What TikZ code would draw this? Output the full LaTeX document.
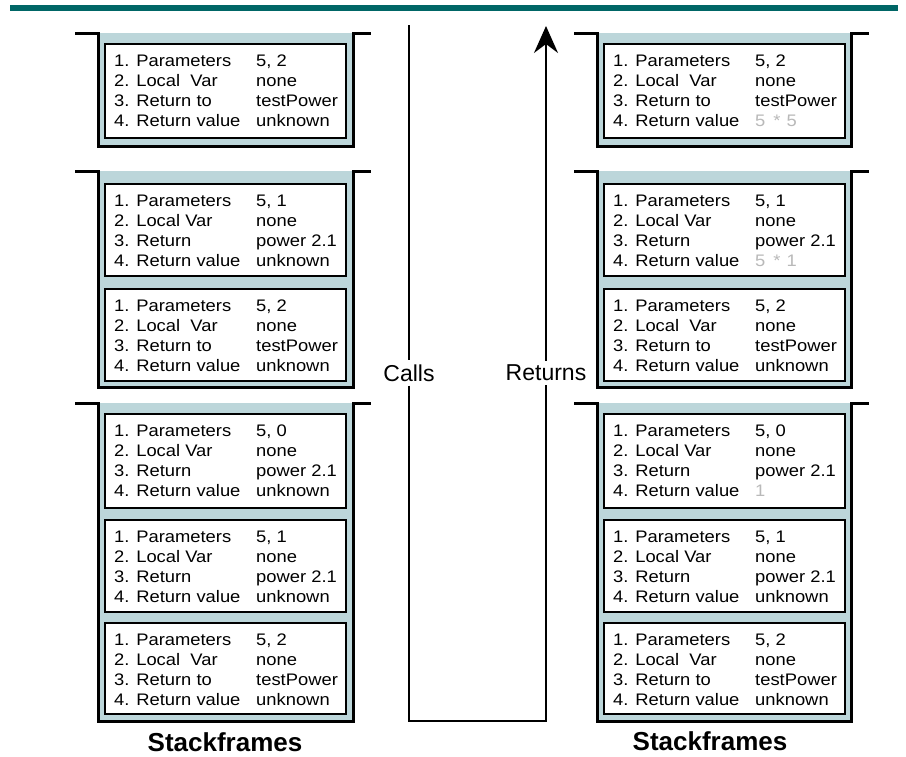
\documentclass[tikz,border=0pt]{standalone}
\usepackage{fontspec}
\setmainfont{Liberation Sans}
\newfontfamily\tabfont[FakeStretch=1.1]{Liberation Sans}
\usetikzlibrary{arrows.meta}
\definecolor{tealbar}{RGB}{0,102,102}
\definecolor{stackblue}{RGB}{188,214,218}
\definecolor{ghost}{RGB}{185,185,185}

\newcommand\scont[4]{%
  \fill[stackblue] (#1,#3) rectangle (#2,#4);
  \draw[wall] ({#1-23},#3) -- (#1,#3) -- (#1,#4) -- (#2,#4) -- (#2,#3) -- ({#2+18},#3);
}
\newcommand\sframe[9]{%
  \node[ibox, minimum height=#3] (#4) at (#1,#2) {};
  \node[txt] (#4a) at ({#1+10},{#2+23}) {1. Parameters};
  \node[txt] (#4b) at ({#1+10},{#2+43}) {2. #6};
  \node[txt] (#4c) at ({#1+10},{#2+63}) {3. #7};
  \node[txt] (#4d) at ({#1+10},{#2+83}) {4. Return value};
  \node[txt] (#4e) at ({#1+152},{#2+23}) {#5};
  \node[txt] (#4f) at ({#1+152},{#2+43}) {none};
  \node[txt] (#4g) at ({#1+152},{#2+63}) {#8};
  \node[txt] (#4h) at ({#1+152},{#2+83}) {#9};
}

\begin{document}
\begin{tikzpicture}[x=1pt,y=-1pt,
  ibox/.style={draw=black, line width=2pt, fill=white, minimum width=241pt, inner sep=0pt, anchor=north west},
  txt/.style={anchor=base west, inner sep=0pt, font=\tabfont\fontsize{16.7}{20}\selectfont},
  wall/.style={line width=3pt, line join=miter},
  flow/.style={line width=2pt},
  lbl/.style={font=\fontsize{23}{26}\selectfont, fill=white, inner sep=4pt},
  titletxt/.style={font=\bfseries\fontsize{26}{30}\selectfont, inner sep=0pt}]
\useasboundingbox (0,0) rectangle (906,756);

% top bar
\fill[tealbar] (10,4.5) rectangle (898,10.5);

% left containers
\scont{98}{353}{33}{146}
\scont{98}{353}{171}{387}
\scont{98}{353}{403}{721}
% right containers
\scont{597}{851}{33}{146}
\scont{597}{851}{171}{387}
\scont{597}{851}{403}{721}

% left frames
\sframe{104}{43}{94}{La}{5, 2}{Local\ \ Var}{Return to}{testPower}{unknown}
\sframe{104}{183}{92}{Lb}{5, 1}{Local Var}{Return}{power 2.1}{unknown}
\sframe{104}{288}{92}{Lc}{5, 2}{Local\ \ Var}{Return to}{testPower}{unknown}
\sframe{104}{413}{94}{Ld}{5, 0}{Local Var}{Return}{power 2.1}{unknown}
\sframe{104}{519}{92}{Le}{5, 1}{Local Var}{Return}{power 2.1}{unknown}
\sframe{104}{622}{91}{Lf}{5, 2}{Local\ \ Var}{Return to}{testPower}{unknown}

% right frames
\sframe{603}{43}{94}{Ra}{5, 2}{Local\ \ Var}{Return to}{testPower}{\textcolor{ghost}{5\hspace{8pt}*\hspace{6pt}5}}
\sframe{603}{183}{92}{Rb}{5, 1}{Local Var}{Return}{power 2.1}{\textcolor{ghost}{5\hspace{8pt}*\hspace{6pt}1}}
\sframe{603}{288}{92}{Rc}{5, 2}{Local\ \ Var}{Return to}{testPower}{unknown}
\sframe{603}{413}{94}{Rd}{5, 0}{Local Var}{Return}{power 2.1}{\textcolor{ghost}{1}}
\sframe{603}{519}{92}{Re}{5, 1}{Local Var}{Return}{power 2.1}{unknown}
\sframe{603}{622}{91}{Rf}{5, 2}{Local\ \ Var}{Return to}{testPower}{unknown}

% calls / returns flow
\coordinate (ctop) at (409,25);
\node[lbl] (calls) at (409,373) {Calls};
\coordinate (cbot) at (409,721);
\coordinate (rbot) at (546,721);
\node[lbl] (returns) at (546,373) {Returns};
\coordinate (rtop) at (546,26);
\draw[flow] (ctop) -- (calls);
\draw[flow, line join=miter] (calls) -- (cbot) -- (rbot) -- (returns);
\draw[flow, -{Stealth[length=27pt,width=24pt,inset=9pt]}] (returns) -- (rtop);

% titles
\node[titletxt] (st1) at (225,742) {Stackframes};
\node[titletxt] (st2) at (710,741) {Stackframes};
\end{tikzpicture}
\end{document}
